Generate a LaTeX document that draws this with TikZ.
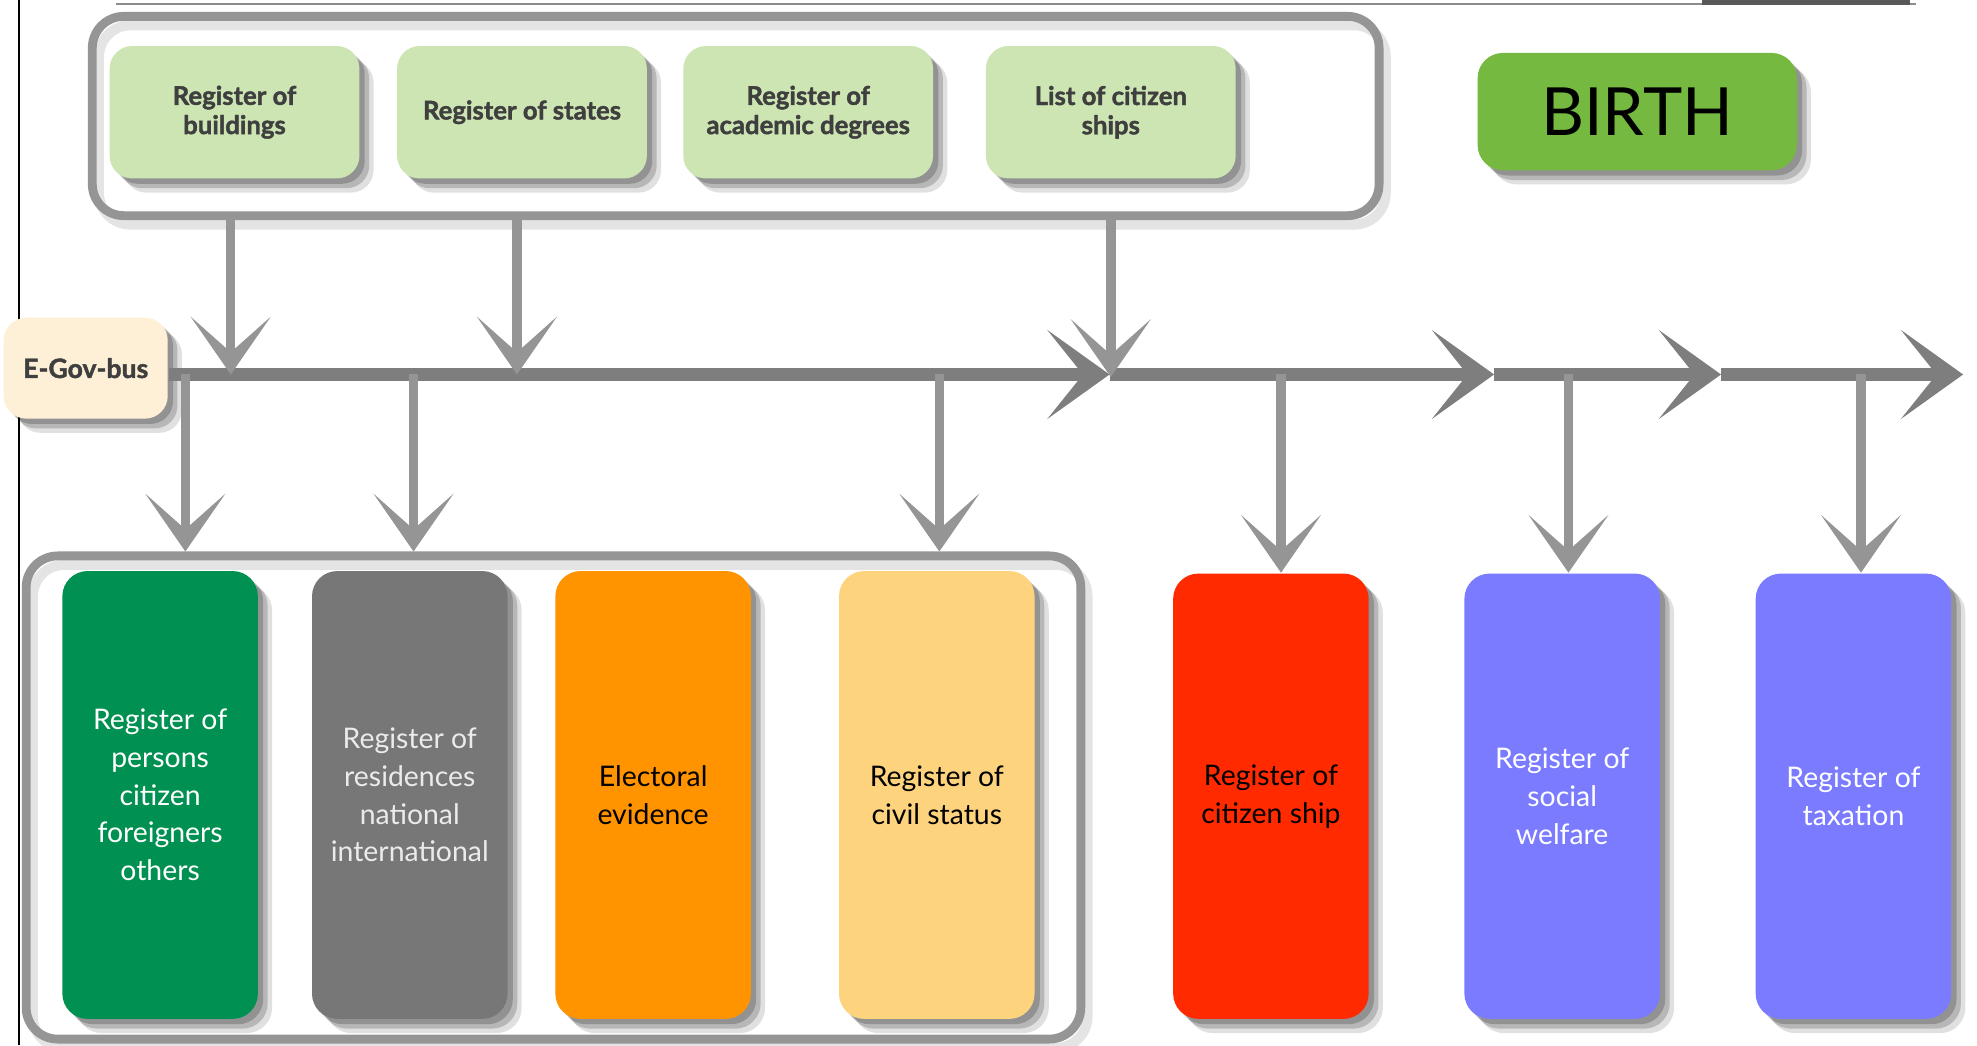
\documentclass[tikz,border=0pt]{standalone}
\usepackage{fontspec}
\setmainfont{Lato}[BoldFeatures={FakeBold=1.6}]
\usetikzlibrary{arrows.meta,shadows}
\definecolor{topgreen}{HTML}{CCE5B3}
\definecolor{textdark}{HTML}{3F3F3F}
\definecolor{birthgreen}{HTML}{76B940}
\definecolor{cream}{HTML}{FEF0D6}
\definecolor{dgreen}{HTML}{009051}
\definecolor{mgray}{HTML}{777777}
\definecolor{orng}{HTML}{FF9300}
\definecolor{ylw}{HTML}{FED37D}
\definecolor{rd}{HTML}{FF2A00}
\definecolor{blu}{HTML}{7A7BFF}
\definecolor{sketch}{HTML}{959595}
\definecolor{busgray}{HTML}{7E7E7E}
\tikzset{
  softshadow/.style={
    drop shadow={shadow xshift=3.2pt,shadow yshift=-3.2pt,opacity=0.12,fill=black},
    drop shadow={shadow xshift=2.2pt,shadow yshift=-2.2pt,opacity=0.18,fill=black},
    drop shadow={shadow xshift=1.2pt,shadow yshift=-1.2pt,opacity=0.2,fill=black}},
  topbox/.style={rounded corners=0.18cm, fill=topgreen, minimum width=1.98cm, minimum height=1.05cm,
     align=center, inner sep=0pt, text=textdark, font=\bfseries\fontsize{5.8}{6.6}\selectfont, softshadow},
  botbox/.style={rounded corners=0.2cm, minimum width=1.55cm, minimum height=3.55cm,
     align=center, inner sep=0pt, font=\fontsize{6.4}{8.5}\selectfont, softshadow},
  grpbox/.style={draw=sketch, line width=0.07cm, rounded corners=0.25cm, inner sep=0pt,
     preaction={draw=black!30, line width=0.08cm, opacity=0.35, transform canvas={shift={(1.5pt,-2pt)}}}},
  arr/.style={draw=sketch, line width=0.075cm, -{Stealth[length=13pt,width=18pt,inset=8pt]}},
  bus/.style={draw=busgray, line width=0.1cm, -{Stealth[length=14pt,width=20pt,inset=8pt]}}
}
\begin{document}
\begin{tikzpicture}[x=0.01cm,y=-0.01cm]
\fill[white] (0,0) rectangle (1568,829);
\useasboundingbox (0,0) rectangle (1568,829);
% slide artifacts
\draw[black!45, line width=0.012cm] (92,3) -- (1520,3);
\fill[black!65] (1350,0) rectangle (1515,4);
\draw[black, line width=0.02cm] (15,0) -- (15,829);
% group boxes
\node[grpbox, minimum width=10.2cm, minimum height=1.58cm] (topgrp) at (583.5,92) {};
\node[grpbox, minimum width=8.36cm, minimum height=3.83cm] (botgrp) at (439,632.5) {};
% E-Gov bus node
\node[rounded corners=0.18cm, fill=cream, minimum width=1.3cm, minimum height=0.8cm, inner sep=0pt,
      text=textdark, font=\bfseries\fontsize{6}{7}\selectfont, softshadow] (egov) at (68,292) {E-Gov-bus};
% bus coordinates
\coordinate (t1) at (880,297);
\coordinate (t2) at (1185,297);
\coordinate (t3) at (1365,297);
\coordinate (t4) at (1557,297);
\coordinate (p1) at (183,297);
\coordinate (p2) at (410,297);
\coordinate (p3) at (881,299);
\coordinate (q1) at (147,297);
\coordinate (q2) at (328,297);
\coordinate (q3) at (745,297);
\coordinate (q4) at (1016,297);
\coordinate (q5) at (1244,297);
\coordinate (q6) at (1476,297);
% bottom boxes
\node[botbox, fill=dgreen, text=white] (persons) at (127,630.5) {Register of\\persons\\citizen\\foreigners\\others};
\node[botbox, fill=mgray, text=black!8] (resid) at (325,630.5) {Register of\\residences\\national\\international};
\node[botbox, fill=orng, text=black] (elect) at (518,630.5) {Electoral\\evidence};
\node[botbox, fill=ylw, text=black] (civil) at (743,630.5) {Register of\\civil status};
\node[botbox, fill=rd, text=black, minimum height=3.53cm] (cit) at (1008,631.5) {Register of\\citizen ship};
\node[botbox, fill=blu, text=white, minimum height=3.53cm] (social) at (1239,631.5) {Register of\\social\\welfare};
\node[botbox, fill=blu, text=white, minimum height=3.53cm] (tax) at (1470,631.5) {Register of\\taxation};
% bus
\draw[bus] (egov.east |- t1) -- (t1);
\draw[bus] (t1) -- (t2);
\draw[bus] (t2) -- (t3);
\draw[bus] (t3) -- (t4);
% arrows into bus
\draw[arr] (p1 |- topgrp.south) -- (p1);
\draw[arr] (p2 |- topgrp.south) -- (p2);
\draw[arr] (p3 |- topgrp.south) -- (p3);
% arrows out of bus
\draw[arr] (q1) -- (q1 |- botgrp.north);
\draw[arr] (q2) -- (q2 |- botgrp.north);
\draw[arr] (q3) -- (q3 |- botgrp.north);
\draw[arr] (q4) -- (q4 |- cit.north);
\draw[arr] (q5) -- (q5 |- social.north);
\draw[arr] (q6) -- (q6 |- tax.north);
% top boxes
\node[topbox] (build) at (186,89) {Register of\\buildings};
\node[topbox] (states) at (414,89) {Register of states};
\node[topbox] (acad) at (641,89) {Register of\\academic degrees};
\node[topbox] (citlist) at (881,89) {List of citizen\\ships};
% BIRTH
\node[rounded corners=0.2cm, fill=birthgreen, minimum width=2.53cm, minimum height=0.93cm, inner sep=0pt,
      text=black, font=\fontsize{15}{18}\selectfont, softshadow] (birth) at (1298.5,88.5) {BIRTH};
\end{tikzpicture}
\end{document}
